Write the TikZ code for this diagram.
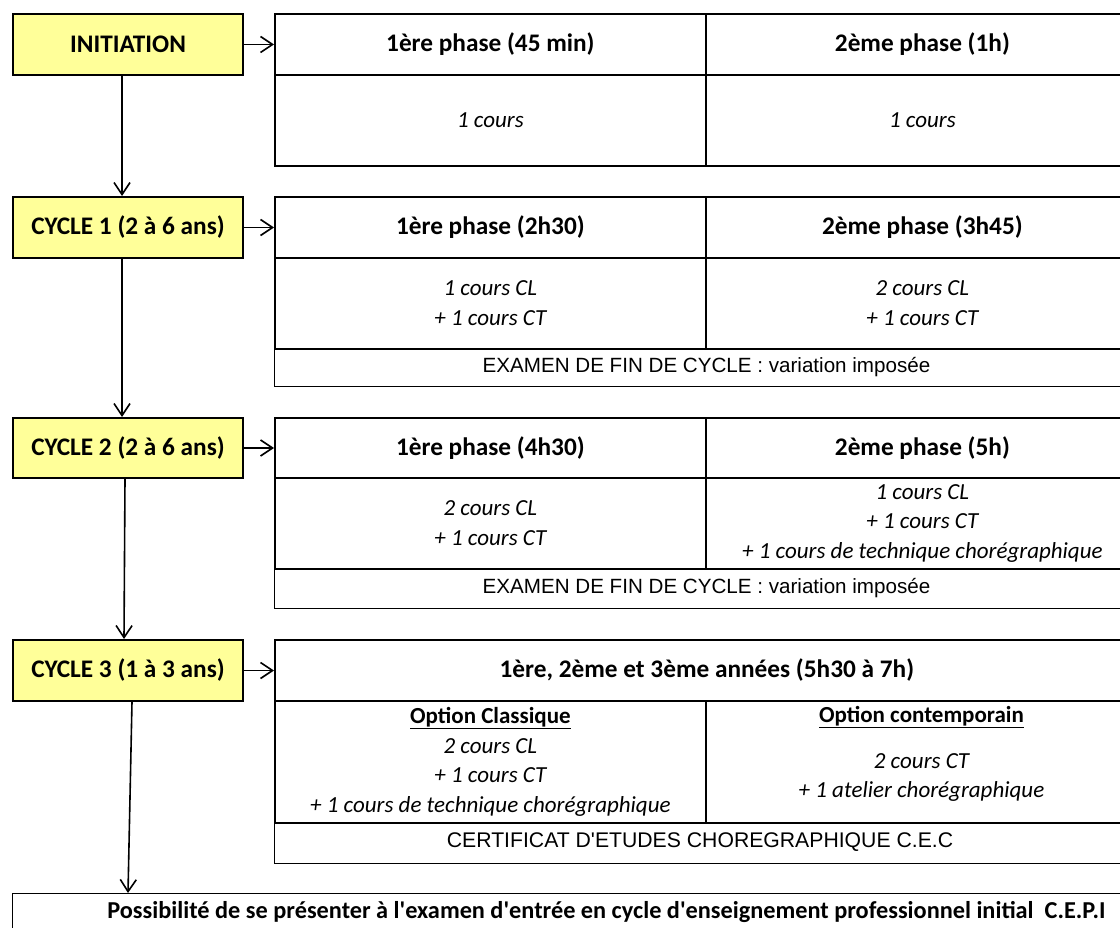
\documentclass[tikz,border=0pt]{standalone}
\usepackage{fontspec}
\setmainfont{Carlito}
\newfontfamily\arialf{Liberation Sans}
\usetikzlibrary{arrows.meta}
\definecolor{ylw}{RGB}{255,255,153}
\begin{document}
\begin{tikzpicture}[x=1pt,y=-1pt,
  ybox/.style={draw, line width=2pt, fill=ylw, minimum width=230pt, minimum height=61pt, inner sep=0pt, anchor=north west, font=\fontsize{25.3}{30}\selectfont\bfseries},
  cell/.style={draw, line width=1.8pt, inner sep=0pt, anchor=north west, align=center},
  hdr/.style={font=\fontsize{25.3}{30}\selectfont\bfseries},
  bod/.style={font=\fontsize{23}{29.8}\selectfont\itshape},
  opt/.style={font=\fontsize{23}{29.8}\selectfont\bfseries},
  exam/.style={draw, line width=1pt, inner sep=0pt, anchor=north west, minimum width=864pt, font=\fontsize{20.6}{24}\selectfont\arialf},
  arr/.style={line width=1.6pt, -{Straight Barb[length=12pt,width=16pt,line width=1.6pt]}}
]
\useasboundingbox (0,0) rectangle (1120,928);
\fill[white] (0,0) rectangle (1120,928);

% left column
\node[ybox] (init) at (12,13) {INITIATION};
\node[ybox] (c1) at (12,196) {CYCLE 1 (2 à 6 ans)};
\node[ybox, minimum height=60pt] (c2) at (12,417) {CYCLE 2 (2 à 6 ans)};
\node[ybox] (c3) at (12,639) {CYCLE 3 (1 à 3 ans)};

% table 1
\node[cell,hdr, minimum width=431pt, minimum height=61pt] (t1a) at (274,13) {1ère phase (45 min)};
\node[cell,hdr, minimum width=433pt, minimum height=61pt] (t1b) at (705,13) {2ème phase (1h)};
\node[cell,bod, minimum width=431pt, minimum height=91pt] (t1c) at (274,74) {1 cours};
\node[cell,bod, minimum width=433pt, minimum height=91pt] (t1d) at (705,74) {1 cours};

% table 2
\node[exam, minimum height=38pt] (e2) at (274,348) {EXAMEN DE FIN DE CYCLE : variation imposée};
\node[cell,hdr, minimum width=431pt, minimum height=61pt] (t2a) at (274,196) {1ère phase (2h30)};
\node[cell,hdr, minimum width=433pt, minimum height=61pt] (t2b) at (705,196) {2ème phase (3h45)};
\node[cell,bod, minimum width=431pt, minimum height=91pt] (t2c) at (274,257) {1 cours CL\\+ 1 cours CT};
\node[cell,bod, minimum width=433pt, minimum height=91pt] (t2d) at (705,257) {2 cours CL\\+ 1 cours CT};

% table 3
\node[exam, minimum height=40pt] (e3) at (274,568) {EXAMEN DE FIN DE CYCLE : variation imposée};
\node[cell,hdr, minimum width=431pt, minimum height=60pt] (t3a) at (274,417) {1ère phase (4h30)};
\node[cell,hdr, minimum width=433pt, minimum height=60pt] (t3b) at (705,417) {2ème phase (5h)};
\node[cell,bod, minimum width=431pt, minimum height=91pt] (t3c) at (274,477) {2 cours CL\\+ 1 cours CT};
\node[cell,bod, minimum width=433pt, minimum height=91pt] (t3d) at (705,477) {1 cours CL\\+ 1 cours CT\\+ 1 cours de technique chorégraphique};

% table 4
\node[exam, minimum height=41pt] (e4) at (274,822) {};
\node[font=\fontsize{21.2}{24}\selectfont\arialf] (e4t) at (700,842.5) {CERTIFICAT D\textquotesingle ETUDES CHOREGRAPHIQUE C.E.C};
\node[cell,hdr, minimum width=864pt, minimum height=61pt] (t4a) at (274,639) {1ère, 2ème et 3ème années (5h30 à 7h)};
\node[cell,bod, minimum width=431pt, minimum height=122pt] (t4c) at (274,700) {\textbf{\upshape\underline{Option Classique}}\\2 cours CL\\+ 1 cours CT\\+ 1 cours de technique chorégraphique};
\node[cell, minimum width=433pt, minimum height=122pt] (t4d) at (705,700) {};
\node[opt] (oc) at (921.5,717) {\underline{Option contemporain}};
\node[bod, align=center] (oct) at (921.5,777.5) {2 cours CT\\+ 1 atelier chorégraphique};

% bottom box
\node[draw, line width=1pt, anchor=north west, minimum width=1188pt, minimum height=38pt, inner sep=0pt, font=\fontsize{24.3}{30}\selectfont\bfseries] (cepi) at (12,893) {Possibilité de se présenter à l\textquotesingle examen d\textquotesingle entrée en cycle d\textquotesingle enseignement professionnel initial\ \ C.E.P.I};

% arrows
\draw[arr] (init.east) -- (init.east -| t1a.west);
\draw[arr] (c1.east) -- (c1.east -| t2a.west);
\draw[arr] (c2.east) -- (c2.east -| t3a.west);
\draw[arr] (c3.east) -- (c3.east -| t4a.west);
\draw[arr] ([xshift=-6pt]init.south) -- ([xshift=-6pt]c1.north);
\draw[arr] ([xshift=-6pt]c1.south) -- ([xshift=-6pt]c2.north);
\draw[arr] ([xshift=-3pt]c2.south) -- ([xshift=-4pt]c3.north);
\draw[arr] ([xshift=4pt]c3.south) -- (cepi.north -| 128,0);
\end{tikzpicture}
\end{document}
